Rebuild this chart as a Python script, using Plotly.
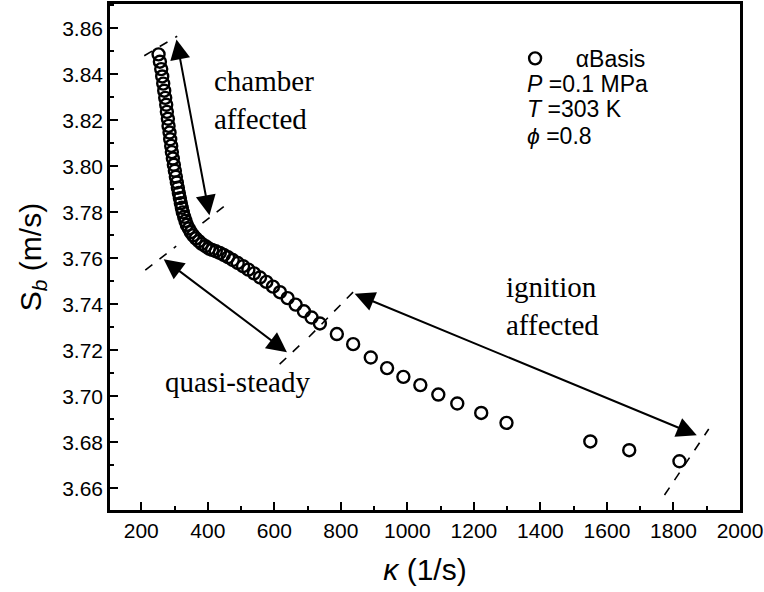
import plotly.graph_objects as go

# stretch rate (1/s) and burned flame speed (m/s)
kappa = [252, 256, 260, 263, 266, 269, 272, 275, 277, 280, 282, 285, 287, 290, 292,
         295, 298, 301, 304, 307, 310, 313, 316, 319, 322, 325, 329, 333, 337, 343,
         349, 356, 364, 373, 382, 393, 403, 413, 424, 436, 448, 461, 475, 490, 506,
         522, 539, 557, 576, 596, 617, 640, 664, 689, 712, 737, 788, 837, 890, 939,
         988, 1039, 1093, 1150, 1222, 1298, 1550, 1667, 1818]
sb = [3.8486, 3.8454, 3.8422, 3.8390, 3.8359, 3.8328, 3.8297, 3.8267, 3.8236, 3.8206,
      3.8175, 3.8146, 3.8117, 3.8088, 3.8061, 3.8033, 3.8006, 3.7980, 3.7954, 3.7929,
      3.7906, 3.7883, 3.7861, 3.7839, 3.7819, 3.7799, 3.7780, 3.7762, 3.7745, 3.7729,
      3.7713, 3.7699, 3.7686, 3.7674, 3.7662, 3.7652, 3.7642, 3.7636, 3.7630, 3.7623,
      3.7614, 3.7604, 3.7592, 3.7579, 3.7565, 3.7550, 3.7534, 3.7516, 3.7497, 3.7476,
      3.7452, 3.7426, 3.7398, 3.7369, 3.7342, 3.7316, 3.7270, 3.7226, 3.7168, 3.7122,
      3.7084, 3.7048, 3.7007, 3.6968, 3.6927, 3.6884, 3.6803, 3.6765, 3.6717]

x_ticks = [200, 400, 600, 800, 1000, 1200, 1400, 1600, 1800, 2000]
y_ticks = [3.66, 3.68, 3.70, 3.72, 3.74, 3.76, 3.78, 3.80, 3.82, 3.84, 3.86]

# region markers: double arrows and dashed boundary lines (data coordinates)
arrows = [((305, 3.8557), (405, 3.7787)),
          ((263, 3.7600), (638, 3.7191)),
          ((837, 3.7448), (1870, 3.6830))]
dashes = [((209, 3.8480), (308, 3.8565)),
          ((384, 3.7752), (453, 3.7830)),
          ((212, 3.7548), (305, 3.7652)),
          ((616, 3.7139), (683, 3.7230)),
          ((704, 3.7257), (840, 3.7457)),
          ((1773, 3.6570), (1906, 3.6857))]
labels = [("chamber<br>affected", 0.162, 0.81, "left"),
          ("quasi-steady", 0.203, 0.253, "center"),
          ("ignition<br>affected", 0.626, 0.403, "left")]

fig = go.Figure()
fig.add_trace(go.Scatter(
    x=kappa, y=sb, mode="markers", name="\u2002\u2009\u2009αBasis",
    marker=dict(symbol="circle-open", size=12, color="black", line=dict(width=2.4)),
))

for (p0, p1) in arrows:
    fig.add_annotation(x=p1[0], y=p1[1], ax=p0[0], ay=p0[1], xref="x", yref="y",
                       axref="x", ayref="y", text="", showarrow=True,
                       arrowhead=2, startarrowhead=2, arrowside="end+start",
                       arrowsize=2, startarrowsize=2, arrowwidth=2, arrowcolor="black")

for (p0, p1) in dashes:
    fig.add_shape(type="line", x0=p0[0], y0=p0[1], x1=p1[0], y1=p1[1],
                  xref="x", yref="y", line=dict(color="black", width=1.6, dash="dash"))

for (txt, px, py, anchor) in labels:
    fig.add_annotation(x=px, y=py, xref="paper", yref="paper", text=txt, showarrow=False,
                       align="left", xanchor=anchor, yanchor="middle",
                       font=dict(family="Liberation Serif", size=29, color="black"))

info = [("<i>P</i> =0.1 MPa", 0.842), ("<i>T</i> =303 K", 0.793), ("<i>ϕ</i> =0.8", 0.740)]
for (txt, py) in info:
    fig.add_annotation(x=0.659, y=py, xref="paper", yref="paper", text=txt, showarrow=False,
                       xanchor="left", yanchor="middle",
                       font=dict(family="Liberation Sans", size=23, color="black"))

axis_common = dict(showline=True, linewidth=2.5, linecolor="black", mirror=True,
                   showgrid=False, zeroline=False, ticks="inside", ticklen=8, tickwidth=2,
                   tickcolor="black",
                   tickfont=dict(family="Liberation Sans", size=21, color="black"))

fig.update_xaxes(range=[106, 2000], tickvals=x_ticks, ticktext=[str(v) for v in x_ticks],
                 minor=dict(ticks="inside", ticklen=4, tickwidth=2, dtick=100, tick0=0,
                            tickcolor="black"),
                 title=dict(text="<i>κ</i> (1/s)", standoff=19,
                            font=dict(family="Liberation Sans", size=30, color="black")),
                 **axis_common)
fig.update_yaxes(range=[3.6505, 3.8705], tickvals=y_ticks,
                 ticktext=[f"{v:.2f}" for v in y_ticks],
                 minor=dict(ticks="inside", ticklen=4, tickwidth=2, dtick=0.01, tick0=3.66,
                            tickcolor="black"),
                 title=dict(text="S<sub><i>b</i></sub> (m/s)", standoff=12,
                            font=dict(family="Liberation Sans", size=30, color="black")),
                 **axis_common)

fig.update_layout(
    width=764, height=592,
    margin=dict(l=110, r=24, t=4, b=82, autoexpand=False),
    plot_bgcolor="white", paper_bgcolor="white",
    showlegend=True,
    legend=dict(x=0.643, y=0.935, xanchor="left", yanchor="top", bgcolor="rgba(0,0,0,0)",
                font=dict(family="Liberation Sans", size=23, color="black")),
)

fig.write_html("out.html")
